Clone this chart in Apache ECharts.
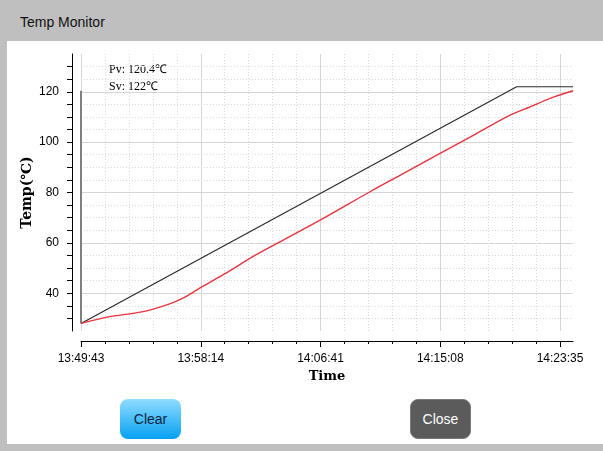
<!DOCTYPE html>
<html><head><meta charset="utf-8">
<script src="https://cdn.jsdelivr.net/npm/echarts@6/dist/echarts.min.js"></script>
<style>
html,body{margin:0;padding:0;width:603px;height:451px;overflow:hidden;background:#bfbfbf;font-family:"Liberation Sans",Arial,sans-serif;}
#title{position:absolute;left:20px;top:14px;font-size:14px;color:#111;}
#panel{position:absolute;left:7px;top:41px;width:596px;height:403px;background:#fff;}
#chart{position:absolute;left:0;top:0;width:603px;height:451px;}
.btn{position:absolute;top:399px;width:61px;height:40px;border-radius:8px;font-size:14px;display:flex;align-items:center;justify-content:center;box-sizing:border-box;z-index:5;}
#clear{left:120px;background:linear-gradient(#8fdcff,#06a0f2);color:#0b2540;}
#close{left:410px;background:#5b5b5b;color:#fff;border:1px solid #7a7a7a;}
</style></head>
<body>
<div id="title">Temp Monitor</div>
<div id="panel"></div>
<div id="chart"></div>
<div class="btn" id="clear">Clear</div>
<div class="btn" id="close">Close</div>
<script>
// ---- data ----
const tickLabels = ['13:49:43', '13:58:14', '14:06:41', '14:15:08', '14:23:35'];
const xTickValues = [0, 508, 1016, 1524, 2032];   // seconds from start
const timeEnd = 2087;
const yLabelValues = [40, 60, 80, 100, 120];
const yTickValues = [30, 35, 40, 45, 50, 55, 60, 65, 70, 75, 80, 85, 90, 95, 100, 105, 110, 115, 120, 125, 130];
const svTimes = [0, 1848, 2087];
const svValues = [28, 122, 122];
const pvTimes = [0, 116, 258, 370, 441, 512, 611, 738, 844, 1014, 1226, 1353, 1523, 1672, 1820, 1905, 1990, 2087];
const pvValues = [28.0, 30.6, 32.6, 35.6, 38.5, 42.5, 47.8, 55.0, 60.4, 69.0, 80.3, 86.8, 95.5, 103.1, 110.7, 114.0, 117.4, 120.4];
const markerTimes = [0, 0];
const markerValues = [28, 120.4];
const pvNow = '120.4';
const svNow = '122';

function zip(a, b) { return a.map((t, i) => [t, b[i]]); }

const chart = echarts.init(document.getElementById('chart'), null, {renderer: 'canvas'});
const nameFont = {fontFamily: 'DejaVu Serif', fontWeight: 'bold', fontSize: 14, color: '#000'};
chart.setOption({
  animation: false,
  backgroundColor: 'transparent',
  grid: {left: 81, right: 30, top: 54, bottom: 120, containLabel: false, outerBoundsMode: 'none'},
  xAxis: [{
    type: 'value', min: 0, max: timeEnd, interval: 508, offset: 10,
    name: 'Time', nameLocation: 'middle', nameGap: 29, nameMoveOverlap: false, nameTextStyle: Object.assign({}, nameFont, {fontSize: 13}),
    axisLine: {show: true, onZero: false, lineStyle: {color: '#000', width: 1}},
    axisTick: {show: true, length: 6, customValues: xTickValues, lineStyle: {color: '#000'}},
    minorTick: {show: true, splitNumber: 5, length: 3, lineStyle: {color: '#000'}},
    axisLabel: {customValues: xTickValues, formatter: v => tickLabels[Math.round(v / 508)], color: '#000', fontSize: 12, fontFamily: 'Liberation Sans', margin: 12},
    splitLine: {show: true, lineStyle: {color: '#d6d6d6', width: 1}},
    minorSplitLine: {show: true, lineStyle: {color: '#d9d9d9', width: 1, type: [1, 2]}}
  }],
  yAxis: [{
    type: 'value', min: 25, max: 135, interval: 5, offset: 9, position: 'left',
    name: 'Temp(℃)', nameLocation: 'middle', nameGap: 38, nameMoveOverlap: false, nameRotate: 90, nameTextStyle: nameFont,
    axisLine: {show: true, onZero: false, lineStyle: {color: '#000', width: 1}},
    axisTick: {show: true, length: 5, customValues: yTickValues, lineStyle: {color: '#000'}},
    axisLabel: {customValues: yLabelValues, color: '#000', fontSize: 12, fontFamily: 'Liberation Sans', margin: 13},
    splitLine: {show: true, lineStyle: {color: '#d9d9d9', width: 1, type: [1, 2]}}
  }, {
    type: 'value', min: 25, max: 135, interval: 5, position: 'left',
    axisLine: {show: false}, axisTick: {show: false, customValues: yLabelValues},
    axisLabel: {show: false},
    splitLine: {show: true, lineStyle: {color: '#d6d6d6', width: 1}}
  }],
  graphic: [
    {type: 'text', left: 109, top: 64, style: {text: 'Pv: ' + pvNow + '℃', font: '12px "Liberation Serif"', fill: '#000'}},
    {type: 'text', left: 109, top: 81, style: {text: 'Sv: ' + svNow + '℃', font: '12px "Liberation Serif"', fill: '#000'}}
  ],
  series: [
    {type: 'line', data: zip(markerTimes, markerValues), symbol: 'none', lineStyle: {color: '#808080', width: 2}, z: 1},
    {type: 'line', data: zip(svTimes, svValues), symbol: 'none', lineStyle: {color: '#2b2b2b', width: 1.2}, z: 2},
    {type: 'line', data: zip(pvTimes, pvValues), symbol: 'none', smooth: 0.3, lineStyle: {color: '#e8343f', width: 1.4}, z: 3}
  ]
});
</script>
</body></html>
